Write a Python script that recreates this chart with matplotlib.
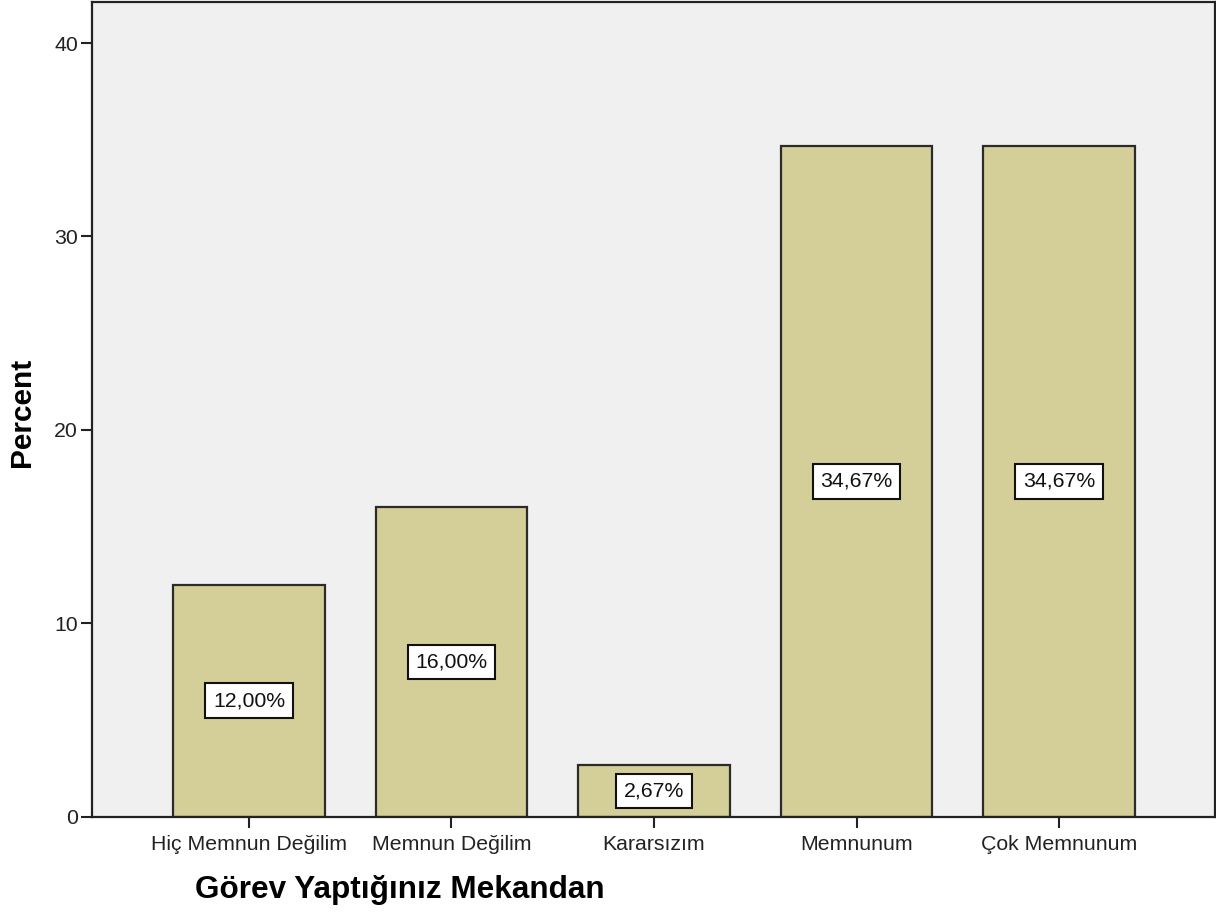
import matplotlib
matplotlib.use("Agg")
import matplotlib.pyplot as plt

plt.rcParams['font.family'] = ['Liberation Sans', 'DejaVu Sans']

# data
categories = ["Hiç Memnun Değilim", "Memnun Değilim", "Kararsızım",
              "Memnunum", "Çok Memnunum"]
percents = [12.00, 16.00, 2.67, 34.67, 34.67]
labels = ["12,00%", "16,00%", "2,67%", "34,67%", "34,67%"]
yticks = [0, 10, 20, 30, 40]

fig = plt.figure(figsize=(12.16, 9.17), dpi=100)
ax = fig.add_axes([92 / 1216, 1 - 816.7 / 917, (1215 - 92) / 1216, (816.7 - 2) / 917])
ax.set_facecolor('#f0f0f0')

x = list(range(len(categories)))
ax.bar(x, percents, width=0.75, color='#d4cf99', edgecolor='#2b2b2b', linewidth=1.6, zorder=2)

# value labels in the middle of each bar
for xi, p, lab in zip(x, percents, labels):
    ax.text(xi, p / 2, lab, ha='center', va='center', fontsize=15.3, color='#111111',
            bbox=dict(boxstyle='square,pad=0.36', facecolor='white', edgecolor='#111111', linewidth=1.5),
            zorder=3)

ax.set_xlim(-0.775, 4.77)
ax.set_ylim(0, 42.12)
ax.set_xticks(x)
ax.set_xticklabels(categories, fontsize=15.3, color='#222222')
ax.set_yticks(yticks)
ax.set_yticklabels([str(t) for t in yticks], fontsize=15.3, color='#222222')
ax.tick_params(axis='both', direction='out', length=8, width=1.5, color='#222222')
ax.tick_params(axis='x', pad=5)
ax.tick_params(axis='y', pad=2)

for side in ['left', 'bottom', 'top', 'right']:
    ax.spines[side].set_linewidth(1.6)
    ax.spines[side].set_color('#222222')

fig.text(22 / 1216, 1 - 412 / 917, "Percent", rotation=90, ha='center', va='center',
         fontsize=21.5, fontweight='bold')
fig.text(400 / 1216, 1 - 890 / 917, "Görev Yaptığınız Mekandan", ha='center', va='center',
         fontsize=22.7, fontweight='bold')

fig.savefig('out.png', dpi=100)
